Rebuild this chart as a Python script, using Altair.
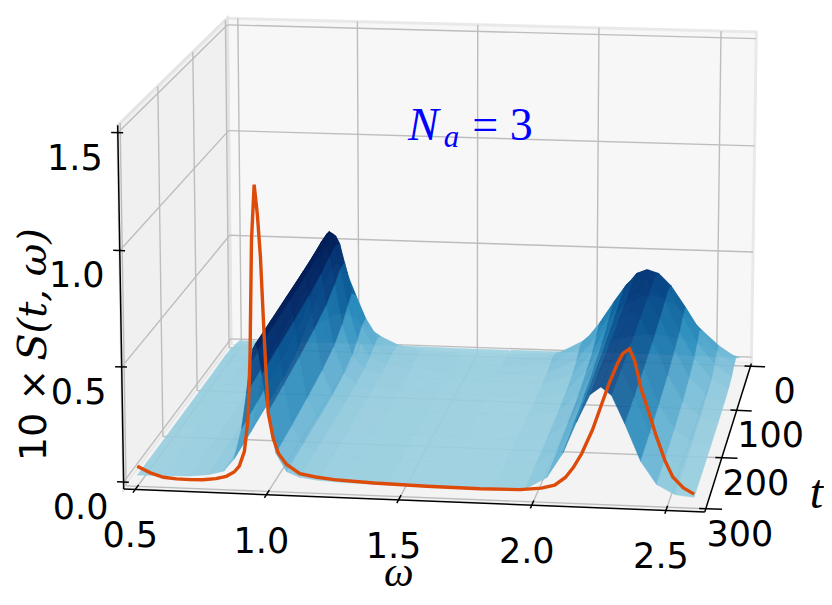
import math
import pandas as pd
import altair as alt

# ------------------------------------------------------------------
# Values
# ------------------------------------------------------------------
omega_grid = [0.50, 0.60, 0.70, 0.77, 0.83, 0.87, 0.90, 0.92, 0.935, 0.945, 0.955, 0.965,
              0.98, 1.00, 1.03, 1.07, 1.12, 1.19, 1.29, 1.45, 1.65, 1.85, 1.97, 2.05,
              2.11, 2.16, 2.21, 2.25, 2.29, 2.34, 2.40, 2.46, 2.53, 2.60]
t_grid = [0, 15, 30, 45, 60, 80, 110, 150, 200, 250, 300]

S_t000 = [0.005, 0.005, 0.006, 0.008, 0.011, 0.013, 0.014, 0.015, 0.015, 0.015, 0.015, 0.015, 0.015, 0.014, 0.013, 0.011, 0.009, 0.007, 0.006, 0.005, 0.005, 0.006, 0.008, 0.010, 0.011, 0.012, 0.013, 0.013, 0.013, 0.012, 0.011, 0.010, 0.008, 0.007]
S_t015 = [0.013, 0.018, 0.032, 0.064, 0.108, 0.140, 0.163, 0.176, 0.182, 0.185, 0.185, 0.185, 0.181, 0.171, 0.147, 0.115, 0.077, 0.041, 0.020, 0.012, 0.012, 0.030, 0.063, 0.091, 0.111, 0.124, 0.133, 0.135, 0.133, 0.124, 0.108, 0.088, 0.063, 0.042]
S_t030 = [0.020, 0.025, 0.041, 0.080, 0.171, 0.272, 0.358, 0.406, 0.435, 0.446, 0.450, 0.446, 0.428, 0.384, 0.300, 0.193, 0.102, 0.050, 0.028, 0.019, 0.017, 0.047, 0.121, 0.201, 0.267, 0.313, 0.343, 0.350, 0.343, 0.313, 0.257, 0.191, 0.121, 0.069]
S_t045 = [0.024, 0.029, 0.040, 0.072, 0.158, 0.295, 0.435, 0.531, 0.585, 0.606, 0.615, 0.606, 0.573, 0.483, 0.339, 0.183, 0.089, 0.047, 0.031, 0.023, 0.019, 0.040, 0.122, 0.239, 0.344, 0.426, 0.481, 0.495, 0.481, 0.426, 0.327, 0.221, 0.122, 0.061]
S_t060 = [0.023, 0.027, 0.036, 0.059, 0.126, 0.261, 0.421, 0.538, 0.613, 0.644, 0.655, 0.644, 0.591, 0.482, 0.309, 0.151, 0.070, 0.041, 0.028, 0.021, 0.018, 0.028, 0.093, 0.209, 0.334, 0.435, 0.506, 0.525, 0.506, 0.435, 0.312, 0.192, 0.093, 0.042]
S_t080 = [0.021, 0.024, 0.031, 0.048, 0.097, 0.213, 0.380, 0.512, 0.603, 0.641, 0.655, 0.641, 0.576, 0.447, 0.261, 0.117, 0.059, 0.036, 0.026, 0.020, 0.018, 0.020, 0.068, 0.176, 0.305, 0.418, 0.502, 0.525, 0.502, 0.418, 0.280, 0.159, 0.068, 0.030]
S_t110 = [0.020, 0.022, 0.028, 0.041, 0.078, 0.169, 0.336, 0.481, 0.582, 0.628, 0.645, 0.628, 0.551, 0.407, 0.217, 0.094, 0.048, 0.031, 0.024, 0.019, 0.017, 0.018, 0.053, 0.149, 0.277, 0.398, 0.490, 0.515, 0.490, 0.398, 0.255, 0.132, 0.053, 0.024]
S_t150 = [0.019, 0.021, 0.026, 0.038, 0.068, 0.149, 0.305, 0.455, 0.564, 0.616, 0.635, 0.616, 0.530, 0.378, 0.190, 0.077, 0.044, 0.029, 0.022, 0.019, 0.017, 0.016, 0.040, 0.122, 0.247, 0.375, 0.476, 0.505, 0.476, 0.375, 0.223, 0.106, 0.040, 0.020]
S_t200 = [0.018, 0.020, 0.025, 0.035, 0.060, 0.131, 0.277, 0.430, 0.548, 0.604, 0.625, 0.604, 0.510, 0.351, 0.168, 0.070, 0.040, 0.027, 0.021, 0.018, 0.015, 0.016, 0.032, 0.101, 0.222, 0.354, 0.463, 0.495, 0.463, 0.354, 0.197, 0.087, 0.032, 0.017]
S_t250 = [0.018, 0.020, 0.024, 0.033, 0.056, 0.116, 0.258, 0.411, 0.535, 0.593, 0.615, 0.593, 0.495, 0.330, 0.150, 0.063, 0.038, 0.026, 0.021, 0.018, 0.015, 0.015, 0.027, 0.086, 0.201, 0.335, 0.451, 0.485, 0.451, 0.335, 0.177, 0.072, 0.027, 0.016]
S_t300 = [0.018, 0.020, 0.023, 0.032, 0.050, 0.104, 0.239, 0.393, 0.522, 0.583, 0.605, 0.583, 0.477, 0.310, 0.136, 0.058, 0.036, 0.026, 0.020, 0.018, 0.015, 0.015, 0.024, 0.076, 0.184, 0.320, 0.440, 0.475, 0.440, 0.320, 0.162, 0.065, 0.024, 0.016]
surface_rows = [S_t000, S_t015, S_t030, S_t045, S_t060, S_t080, S_t110,
                S_t150, S_t200, S_t250, S_t300]

# orange curve drawn on the t = 300 plane
spec_t = 300
spec_omega = [0.50, 0.55, 0.60, 0.65, 0.70, 0.75, 0.80, 0.84, 0.87, 0.89, 0.91, 0.925,
              0.935, 0.945, 0.957, 0.968, 0.978, 0.99, 1.002, 1.02, 1.04, 1.07, 1.12,
              1.18, 1.25, 1.40, 1.60, 1.80, 1.95, 2.03, 2.08, 2.12, 2.15, 2.18, 2.22,
              2.25, 2.28, 2.31, 2.33, 2.355, 2.375, 2.40, 2.43, 2.455, 2.49, 2.52, 2.56, 2.60]
spec_value = [0.057, 0.030, 0.013, 0.008, 0.007, 0.009, 0.016, 0.028, 0.048, 0.075, 0.140, 0.280,
              0.55, 1.05, 1.287, 1.16, 0.98, 0.62, 0.31, 0.20, 0.135, 0.09, 0.052,
              0.040, 0.032, 0.024, 0.019, 0.017, 0.020, 0.030, 0.045, 0.080, 0.125, 0.185, 0.29,
              0.39, 0.49, 0.575, 0.62, 0.642, 0.59, 0.47, 0.37, 0.28, 0.17, 0.10, 0.055, 0.03]

omega_ticks = [0.5, 1.0, 1.5, 2.0, 2.5]
omega_tick_labels = ["0.5", "1.0", "1.5", "2.0", "2.5"]
t_ticks = [0, 100, 200, 300]
t_tick_labels = ["0", "100", "200", "300"]
z_ticks = [0.0, 0.5, 1.0, 1.5]
z_tick_labels = ["0.0", "0.5", "1.0", "1.5"]

assert all(len(r) == len(omega_grid) for r in surface_rows)
assert len(spec_omega) == len(spec_value)

# ------------------------------------------------------------------
# 3-D view (layout parameters)
# ------------------------------------------------------------------
W0, W1 = 0.456, 2.644      # omega limits
T0, T1 = -6.25, 306.25     # t limits
Z0, Z1 = -0.031, 1.531     # value limits
ELEV, AZIM, DIST = 13.3, 8.0, 34.0
BOX = (4.0, 4.0, 2.55)
PX = 139.8                 # pixels per box unit
CXL, CYL = 444.7, 243.3    # principal point inside the view
WIDTH, HEIGHT = 816, 589

ca, sa = math.cos(math.radians(AZIM)), math.sin(math.radians(AZIM))
ce, se = math.cos(math.radians(ELEV)), math.sin(math.radians(ELEV))


def projected(ch):
    return (
        ch.transform_calculate(
            X_=f"{BOX[0]}*((datum.w-({W0}))/{W1 - W0}-0.5)",
            Y_=f"{BOX[1]}*((datum.t-({T0}))/{T1 - T0}-0.5)",
            Z_=f"{BOX[2]}*((datum.z-({Z0}))/{Z1 - Z0}-0.5)",
        )
        .transform_calculate(
            x1=f"datum.X_*{ca}-datum.Y_*{sa}",
            d1=f"datum.Y_*{ca}+datum.X_*{sa}",
        )
        .transform_calculate(
            ys=f"datum.Z_*{ce}-datum.d1*{se}",
            d2=f"datum.d1*{ce}+datum.Z_*{se}",
        )
        .transform_calculate(
            px=f"datum.x1*{DIST}/({DIST}-datum.d2)",
            py=f"datum.ys*{DIST}/({DIST}-datum.d2)",
        )
    )


XS = alt.Scale(domain=[-CXL / PX, (WIDTH - CXL) / PX], nice=False, zero=False)
YS = alt.Scale(domain=[(CYL - HEIGHT) / PX, CYL / PX], nice=False, zero=False)
XE = alt.X("px:Q", scale=XS, axis=None)
YE = alt.Y("py:Q", scale=YS, axis=None)

# ------------------------------------------------------------------
# Tables built from the arrays above
# ------------------------------------------------------------------
def polygon(pts):
    return pd.DataFrame([dict(k=k, w=w, t=t, z=z) for k, (w, t, z) in enumerate(pts)])


floor_df = polygon([(W0, T0, Z0), (W1, T0, Z0), (W1, T1, Z0), (W0, T1, Z0), (W0, T0, Z0)])
back_df = polygon([(W0, T0, Z0), (W1, T0, Z0), (W1, T0, Z1), (W0, T0, Z1), (W0, T0, Z0)])
left_df = polygon([(W0, T0, Z0), (W0, T1, Z0), (W0, T1, Z1), (W0, T0, Z1), (W0, T0, Z0)])


def segments(pairs):
    rows = []
    for g, (p, q) in enumerate(pairs):
        for k, (w, t, z) in enumerate((p, q)):
            rows.append(dict(gid=g, k=k, w=w, t=t, z=z))
    return pd.DataFrame(rows)


grid_pairs = []
for w in omega_ticks:
    grid_pairs.append(((w, T0, Z0), (w, T1, Z0)))
    grid_pairs.append(((w, T0, Z0), (w, T0, Z1)))
for t in t_ticks:
    grid_pairs.append(((W0, t, Z0), (W1, t, Z0)))
    grid_pairs.append(((W0, t, Z0), (W0, t, Z1)))
for z in z_ticks:
    grid_pairs.append(((W0, T0, z), (W1, T0, z)))
    grid_pairs.append(((W0, T0, z), (W0, T1, z)))
grid_df = segments(grid_pairs)

axis_pairs = [((W0, T1, Z0), (W1, T1, Z0)),
              ((W1, T0, Z0), (W1, T1, Z0)),
              ((W0, T1, Z0), (W0, T1, Z1))]
for w in omega_ticks:
    axis_pairs.append(((w, T1 - 9, Z0), (w, T1 + 6, Z0)))
for t in t_ticks:
    axis_pairs.append(((W1 - 0.025, t, Z0), (W1 + 0.06, t, Z0)))
for z in z_ticks:
    axis_pairs.append(((W0 - 0.025, T1, z), (W0 + 0.02, T1, z)))
axis_df = segments(axis_pairs)

# surface quads, back rows first, left to right
quad_rows = []
qid = 0
for i in range(len(t_grid) - 1):
    for j in range(len(omega_grid) - 1):
        corners = [(j, i), (j + 1, i), (j + 1, i + 1), (j, i + 1), (j, i)]
        zc = sum(surface_rows[ii][jj] for jj, ii in corners[:4]) / 4.0
        for k, (jj, ii) in enumerate(corners):
            quad_rows.append(dict(qid=qid, k=k, w=omega_grid[jj], t=t_grid[ii],
                                  z=surface_rows[ii][jj], zc=round(zc, 5)))
        qid += 1
surf_df = pd.DataFrame(quad_rows)

spec_df = pd.DataFrame({"w": spec_omega, "t": spec_t, "z": spec_value,
                        "k": list(range(len(spec_omega)))})

omega_lab_df = pd.DataFrame({"w": omega_ticks, "t": T1, "z": Z0, "label": omega_tick_labels})
t_lab_df = pd.DataFrame({"w": W1, "t": t_ticks, "z": Z0, "label": t_tick_labels})
z_lab_df = pd.DataFrame({"w": W0, "t": T1, "z": z_ticks, "label": z_tick_labels})

# ------------------------------------------------------------------
# Layers
# ------------------------------------------------------------------
def pane(df, color, edge, width):
    return projected(alt.Chart(df)).mark_line(
        fill=color, stroke=edge, strokeWidth=width
    ).encode(x=XE, y=YE, order="k:Q")


panes = [pane(back_df, "#f7f7f7", "#e9e9e9", 3),
         pane(left_df, "#f0f0f0", "#e4e4e4", 3),
         pane(floor_df, "#f3f3f3", "#f3f3f3", 1)]

grid = projected(alt.Chart(grid_df)).mark_line(
    color="#bdbdbd", strokeWidth=1.4
).encode(x=XE, y=YE, detail="gid:N", order="k:Q")

axes = projected(alt.Chart(axis_df)).mark_line(
    color="black", strokeWidth=1.5
).encode(x=XE, y=YE, detail="gid:N", order="k:Q")

cmap = alt.Scale(
    domain=[0.0, 0.12, 0.24, 0.36, 0.48, 0.62],
    range=["#9fd2e1", "#62b2d3", "#2a8dbd", "#13679f", "#083f80", "#011c56"],
    clamp=True,
)
surface = projected(alt.Chart(surf_df)).mark_line(
    strokeWidth=0.5, fillOpacity=0.9, strokeOpacity=0.9
).encode(
    x=XE, y=YE, detail="qid:N", order="k:Q",
    fill=alt.Fill("zc:Q", scale=cmap, legend=None),
    stroke=alt.Stroke("zc:Q", scale=cmap, legend=None),
)

spectrum = projected(alt.Chart(spec_df)).mark_line(
    color="#dc4b0a", strokeWidth=3.4
).encode(x=XE, y=YE, order="k:Q")


def labels(df, dx, dy, size=35):
    return projected(alt.Chart(df)).mark_text(
        font="DejaVu Sans", fontSize=size, dx=dx, dy=dy,
        align="center", baseline="middle", color="black"
    ).encode(x=XE, y=YE, text="label:N")


tick_labels = [labels(omega_lab_df, -5, 47), labels(t_lab_df, 34, 26), labels(z_lab_df, -43, 26)]


def note(w, t, z, text, **kw):
    df = pd.DataFrame({"w": [w], "t": [t], "z": [z], "label": [text]})
    return projected(alt.Chart(df)).mark_text(**kw).encode(x=XE, y=YE, text="label:N")


titles = [
    note(1.55, T1, Z0, "ω", font="Liberation Serif", fontStyle="italic", fontSize=42,
         dx=-13, dy=86, align="center", baseline="alphabetic", color="black"),
    note(W1, 150, Z0, "t", font="Liberation Serif", fontStyle="italic", fontSize=48,
         dx=87, dy=60, align="center", baseline="middle", color="black"),
    note(W0, T1, 0.75, "10 ×", font="DejaVu Sans", fontSize=38, angle=270,
         dx=-60, dy=-75, align="right", baseline="alphabetic", color="black"),
    note(W0, T1, 0.75, "S(t, ω)", font="DejaVu Serif", fontStyle="italic", fontSize=40,
         angle=270, dx=-52, dy=-75, align="left", baseline="alphabetic", color="black"),
    note(1.47, T0, 1.045, "N", font="Liberation Serif", fontStyle="italic", fontSize=46,
         dx=-47, dy=12, align="center", baseline="alphabetic", color="#0000ff"),
    note(1.47, T0, 1.045, "a", font="Liberation Serif", fontStyle="italic", fontSize=31,
         dx=-19, dy=19, align="center", baseline="alphabetic", color="#0000ff"),
    note(1.47, T0, 1.045, "= 3", font="Liberation Serif", fontSize=46,
         dx=32, dy=12, align="center", baseline="alphabetic", color="#0000ff"),
]

chart = alt.layer(
    *panes, grid, axes, surface, spectrum, *tick_labels, *titles
).properties(
    width=WIDTH, height=HEIGHT, padding=0,
    autosize=alt.AutoSizeParams(type="none"),
).configure_view(stroke=None)

chart.save("out.html", embed_options={"renderer": "svg", "actions": False})
